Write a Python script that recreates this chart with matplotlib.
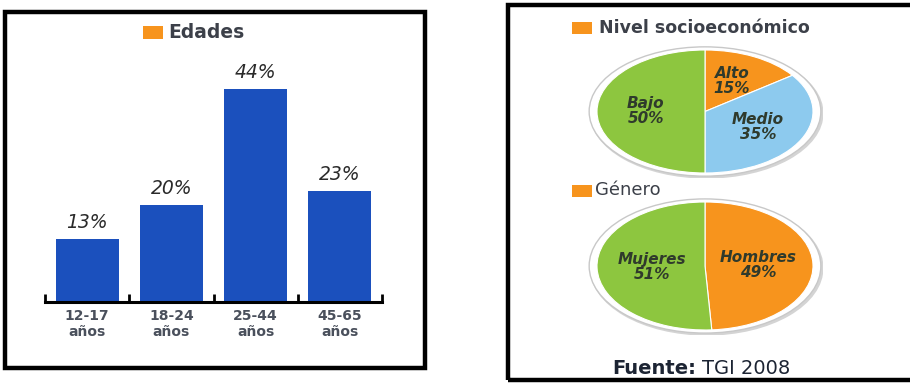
import matplotlib.pyplot as plt
from matplotlib.patches import Rectangle, Ellipse
import numpy as np

# Datos
edades = ['12-17\naños', '18-24\naños', '25-44\naños', '45-65\naños']
edades_pct = [13, 20, 44, 23]

nse_labels = ['Alto', 'Medio', 'Bajo']
nse_pct = [15, 35, 50]

genero_labels = ['Hombres', 'Mujeres']
genero_pct = [49, 51]

# Colores
AZUL = '#1b50bd'
NARANJA = '#f7941d'
VERDE = '#8dc63f'
CELESTE = '#8dcaee'
GRIS = '#3c4049'

W, H = 910, 384
fig = plt.figure(figsize=(W / 100, H / 100), dpi=100)
fig.patch.set_facecolor('white')


def px_axes(x0, y0, x1, y1):
    """Axes a partir de coordenadas en pixeles (origen arriba a la izquierda)."""
    return fig.add_axes([x0 / W, 1 - y1 / H, (x1 - x0) / W, (y1 - y0) / H])


def px_text(x, y, s, **kw):
    return fig.text(x / W, 1 - y / H, s, **kw)


def px_rect(x0, y0, x1, y1, **kw):
    r = Rectangle((x0 / W, 1 - y1 / H), (x1 - x0) / W, (y1 - y0) / H,
                  transform=fig.transFigure, **kw)
    fig.add_artist(r)
    return r


# Marcos
px_rect(5, 12, 425, 368, fill=False, edgecolor='black', linewidth=3.2)
px_rect(508, 5, 916, 380, fill=False, edgecolor='black', linewidth=3.2)

# ---- Barras de edades ----
ax = px_axes(45, 60, 382, 302)
x = np.arange(len(edades))
ax.bar(x, edades_pct, width=0.75, color=AZUL)
ax.set_xlim(-0.5, len(edades) - 0.5)
ax.set_ylim(0, 50)
for xi, v in zip(x, edades_pct):
    ax.annotate(f'{v}%', (xi, v), xytext=(0, 5), textcoords='offset points',
                ha='center', va='bottom', fontsize=13.5, style='italic',
                color='#2a2a2a')
for s in ['top', 'right', 'left']:
    ax.spines[s].set_visible(False)
ax.spines['bottom'].set_linewidth(2.2)
ax.set_yticks([])
ax.set_xticks(x)
ax.set_xticklabels(edades, fontsize=10, color='#4a505c', fontweight='bold',
                   linespacing=1.2)
ax.tick_params(axis='x', length=0, pad=5)
ax.set_xticks(np.arange(-0.5, len(edades)), minor=True)
ax.tick_params(axis='x', which='minor', direction='in', length=6, width=2)
ax.patch.set_alpha(0)

px_rect(143, 26, 163, 39, facecolor=NARANJA, edgecolor='none')
px_text(168, 33, 'Edades', fontsize=13.5, fontweight='bold', color=GRIS,
        va='center', ha='left')


# ---- Tortas ----
def torta(box, valores, etiquetas, colores, ldist):
    x0, y0, x1, y1 = box
    pad_x, pad_y = 10, 5
    a = px_axes(x0 - pad_x, y0 - pad_y, x1 + pad_x, y1 + pad_y)
    rx = 1 + pad_x / ((x1 - x0) / 2)
    ry = 1 + pad_y / ((y1 - y0) / 2)
    # aro blanco con sombra
    a.add_patch(Ellipse((0.015, -0.03), 2 * rx - 0.02, 2 * ry - 0.04,
                        facecolor='#d4d4d4', edgecolor='none', zorder=0))
    a.add_patch(Ellipse((0, 0), 2 * rx - 0.04, 2 * ry - 0.06,
                        facecolor='white', edgecolor='#c8c8c8', lw=1.0, zorder=0))
    textos = [f'{e}\n{v}%' for e, v in zip(etiquetas, valores)]
    wedges, texts = a.pie(valores, labels=textos, colors=colores, startangle=90,
                          counterclock=False, labeldistance=ldist,
                          wedgeprops=dict(edgecolor='white', linewidth=0.8),
                          textprops=dict(fontsize=11, style='italic',
                                         fontweight='bold', color='#2f3a2c'))
    for t in texts:
        t.set_ha('center')
        t.set_va('center')
        t.set_linespacing(1.0)
    a.set_aspect('auto')
    a.set_xlim(-rx, rx)
    a.set_ylim(-ry, ry)
    a.axis('off')
    return a


torta((597, 50, 813, 173), nse_pct, nse_labels, [NARANJA, CELESTE, VERDE], 0.55)
torta((597, 202, 813, 330), genero_pct, genero_labels, [NARANJA, VERDE], 0.49)

px_rect(572, 22, 592, 34, facecolor=NARANJA, edgecolor='none')
px_text(599, 28, 'Nivel socioeconómico', fontsize=12.5, fontweight='bold',
        color=GRIS, va='center', ha='left')
px_rect(572, 185, 592, 197, facecolor=NARANJA, edgecolor='none')
px_text(595, 190, 'Género', fontsize=13, color=GRIS, va='center', ha='left')

px_text(612, 369, 'Fuente:', fontsize=14, fontweight='bold',
        color='#1c2433', va='center', ha='left')
px_text(702, 369, 'TGI 2008', fontsize=14, color='#1c2433',
        va='center', ha='left')

fig.savefig('out.png', dpi=100)
